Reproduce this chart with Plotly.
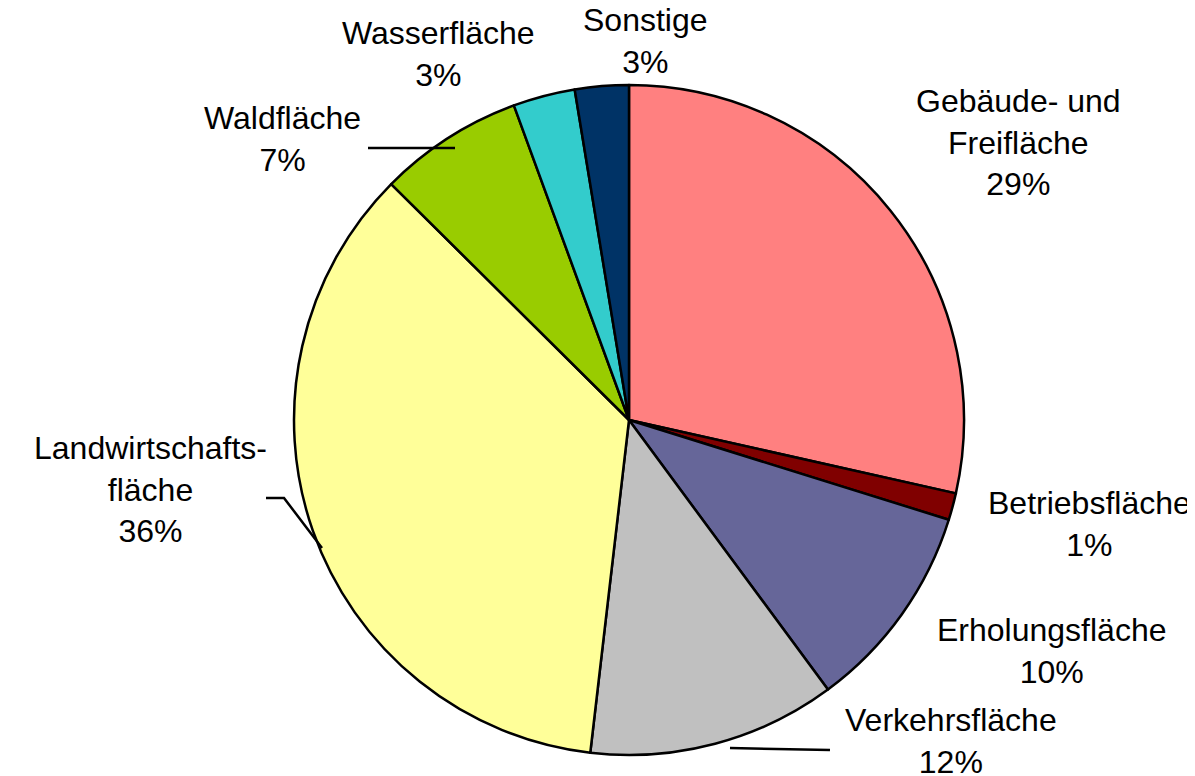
import plotly.graph_objects as go

categories = ["Gebäude- und<br>Freifläche", "Betriebsfläche", "Erholungsfläche",
              "Verkehrsfläche", "Landwirtschafts-<br>fläche", "Waldfläche",
              "Wasserfläche", "Sonstige"]
values = [28.6, 1.3, 10.1, 12.0, 35.7, 7.0, 3.0, 2.6]
pct_labels = ["29%", "1%", "10%", "12%", "36%", "7%", "3%", "3%"]
colors = ["#FF8080", "#800000", "#666699", "#C0C0C0", "#FFFF99", "#99CC00", "#33CCCC", "#003366"]

W, H = 1195, 776
cx, cy, r = 621, 412, 335

fig = go.Figure(go.Pie(
    labels=categories, values=values, sort=False, direction="clockwise",
    rotation=0, textinfo="none", hoverinfo="label+percent",
    marker=dict(colors=colors, line=dict(color="black", width=2.5)),
    domain=dict(x=[(cx - r) / W, (cx + r) / W], y=[(H - cy - r) / H, (H - cy + r) / H]),
    showlegend=False,
))

# label positions (pixel centres of text blocks)
label_pos = [(1010, 134), (1081, 516), (1043, 643), (943, 733),
             (142, 481), (274, 131), (430, 46), (637, 33)]

font = dict(family="Liberation Sans, Arial, sans-serif", size=32, color="black")
for cat, pct, (px, py) in zip(categories, pct_labels, label_pos):
    fig.add_annotation(x=px / W, y=1 - py / H, xref="paper", yref="paper",
                       text=f"{cat}<br>{pct}", showarrow=False, font=font,
                       xanchor="center", yanchor="middle", align="center")

# leader lines
leaders = [
    [(360, 140), (447, 140)],
    [(258, 490), (276, 490), (314, 540)],
    [(822, 742), (722, 740)],
]
for pts in leaders:
    path = "M " + " L ".join(f"{x / W},{1 - y / H}" for x, y in pts)
    fig.add_shape(type="path", path=path, xref="paper", yref="paper",
                  line=dict(color="black", width=2.5))

fig.update_layout(width=W, height=H, margin=dict(l=0, r=0, t=0, b=0),
                  paper_bgcolor="white", plot_bgcolor="white")
fig.write_html("out.html")
